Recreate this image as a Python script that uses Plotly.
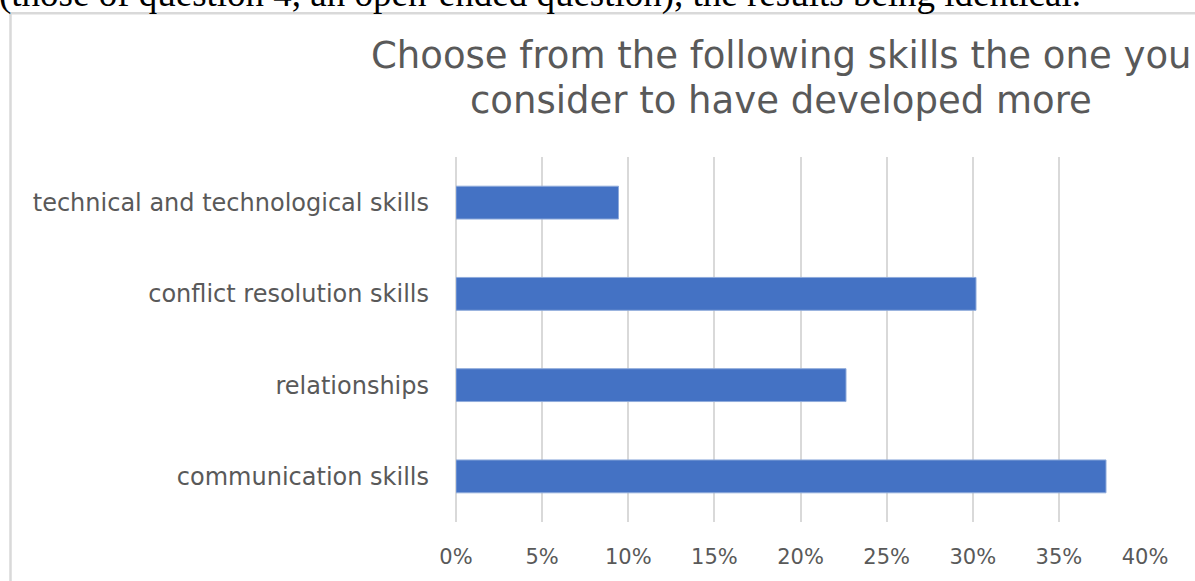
import plotly.graph_objects as go

# Survey responses (n = 53), listed bottom to top as drawn
skills = [
    "communication skills",
    "relationships",
    "conflict resolution skills",
    "technical and technological skills",
]
shares = [20 / 53, 12 / 53, 16 / 53, 5 / 53]

tick_vals = [0, 0.05, 0.10, 0.15, 0.20, 0.25, 0.30, 0.35, 0.40]
tick_text = ["0%", "5%", "10%", "15%", "20%", "25%", "30%", "35%", "40%"]

title_lines = [
    "Choose from the following skills the one you",
    "consider to have developed more",
]
caption_text = "(those of question 4, an open-ended question), the results being identical."

W, H = 1195, 581
M_L, M_R, M_T, M_B = 456, 50, 157, 56
PW, PH = W - M_L - M_R, H - M_T - M_B

grey_text = "#595959"
grid = "#d9d9d9"
font_family = "DejaVu Sans, Open Sans, sans-serif"


def px_x(x):
    """Page pixel column -> paper x."""
    return (x - M_L) / PW


def px_y(y):
    """Page pixel row (from top) -> paper y."""
    return (H - M_B - y) / PH


fig = go.Figure(
    go.Bar(
        x=shares,
        y=skills,
        orientation="h",
        width=0.36,
        marker=dict(color="#4472C4", line=dict(color="#8eaadb", width=1)),
        hoverinfo="skip",
    )
)

fig.update_layout(
    width=W,
    height=H,
    margin=dict(l=M_L, r=M_R, t=M_T, b=M_B),
    paper_bgcolor="white",
    plot_bgcolor="white",
    showlegend=False,
    font=dict(family=font_family, color=grey_text),
)

fig.update_xaxes(
    range=[0, 0.4],
    tickvals=tick_vals,
    ticktext=tick_text,
    showgrid=True,
    gridcolor=grid,
    gridwidth=2,
    zeroline=True,
    zerolinecolor=grid,
    zerolinewidth=2,
    showline=False,
    ticks="",
    ticklabelstandoff=20,
    tickfont=dict(size=21, color=grey_text, family=font_family),
    fixedrange=True,
)

fig.update_yaxes(
    categoryorder="array",
    categoryarray=skills,
    range=[-0.5, 3.5],
    showgrid=False,
    zeroline=False,
    showline=False,
    ticks="",
    ticklabelstandoff=26,
    tickfont=dict(size=24, color=grey_text, family=font_family),
    fixedrange=True,
)

# Chart frame (left and top edges visible; the rest runs off the page)
fig.add_shape(
    type="rect",
    xref="paper", yref="paper",
    x0=px_x(10.5), x1=px_x(W + 40),
    y0=px_y(H + 40), y1=px_y(12),
    line=dict(color="#d9d9d9", width=2.5),
    fillcolor="rgba(0,0,0,0)",
    layer="above",
)

# Chart title, two centred lines
for line, y_center in zip(title_lines, [55, 100]):
    fig.add_annotation(
        text=line,
        xref="paper", yref="paper",
        x=px_x(781), y=px_y(y_center),
        xanchor="center", yanchor="middle",
        showarrow=False,
        font=dict(size=37, color=grey_text, family=font_family),
    )

# Surrounding document text, partly above the page
fig.add_annotation(
    text=caption_text,
    xref="paper", yref="paper",
    x=px_x(-3), y=px_y(-7),
    xanchor="left", yanchor="middle",
    showarrow=False,
    font=dict(size=37, color="black", family="Liberation Serif, Times New Roman, serif"),
)

fig.write_html("out.html")
